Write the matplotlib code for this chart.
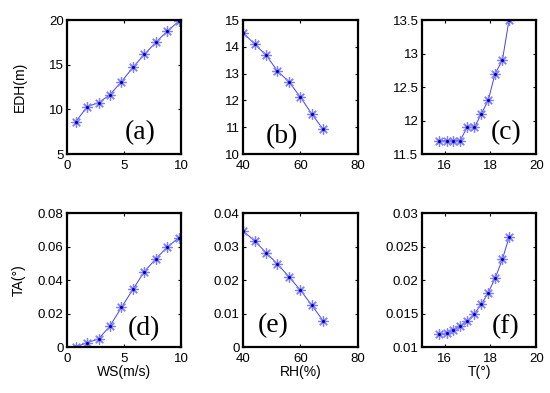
import numpy as np
import matplotlib
matplotlib.use("Agg")
import matplotlib.pyplot as plt

plt.rcParams['font.family'] = ['Liberation Sans', 'DejaVu Sans']

# wind speed (m/s)
ws = [0.75, 1.75, 2.75, 3.75, 4.75, 5.75, 6.75, 7.75, 8.75, 9.75]
edh_ws = [8.6, 10.3, 10.75, 11.65, 13.1, 14.7, 16.15, 17.5, 18.75, 19.85]
ta_ws = [0.0, 0.0026, 0.0048, 0.0126, 0.0236, 0.0344, 0.045, 0.0526, 0.0596, 0.0652]

# relative humidity (%)
rh = [40, 44, 48, 52, 56, 60, 64, 68]
edh_rh = [14.53, 14.1, 13.7, 13.1, 12.7, 12.13, 11.5, 10.92]
ta_rh = [0.0346, 0.0317, 0.0282, 0.0248, 0.021, 0.017, 0.0125, 0.0078]

# temperature
t = [15.77, 16.08, 16.38, 16.67, 16.98, 17.3, 17.6, 17.9, 18.2, 18.52, 18.81]
edh_t = [11.7, 11.7, 11.7, 11.7, 11.9, 11.9, 12.1, 12.3, 12.7, 12.9, 13.5]
ta_t = [0.0119, 0.0121, 0.0125, 0.0131, 0.0139, 0.015, 0.01635, 0.0181, 0.02025, 0.0231, 0.02635]

fig = plt.figure(figsize=(5.5, 3.93), dpi=100)

lefts = [0.122, 0.442, 0.767]
bottoms = [0.608, 0.117]
w, h = 0.208, 0.341

panels = [
    (ws, edh_ws, (0, 10), [0, 5, 10], (5, 20), [5, 10, 15, 20], '(a)', (0.64, 0.16)),
    (rh, edh_rh, (40, 80), [40, 60, 80], (10, 15), [10, 11, 12, 13, 14, 15], '(b)', (0.34, 0.13)),
    (t, edh_t, (15, 20), [16, 18, 20], (11.5, 13.5), [11.5, 12, 12.5, 13, 13.5], '(c)', (0.74, 0.16)),
    (ws, ta_ws, (0, 10), [0, 5, 10], (0, 0.08), [0, 0.02, 0.04, 0.06, 0.08], '(d)', (0.67, 0.14)),
    (rh, ta_rh, (40, 80), [40, 60, 80], (0, 0.04), [0, 0.01, 0.02, 0.03, 0.04], '(e)', (0.26, 0.16)),
    (t, ta_t, (15, 20), [16, 18, 20], (0.01, 0.03), [0.01, 0.015, 0.02, 0.025, 0.03], '(f)', (0.73, 0.15)),
]

axes = []
for i, (x, y, xl, xt, yl, yt, lab, pos) in enumerate(panels):
    ax = fig.add_axes([lefts[i % 3], bottoms[i // 3], w, h])
    ax.plot(x, y, color='#4040ff', lw=0.7)
    # matlab-like asterisk: light spokes with a dark centre
    ax.plot(x, y, ls='none', marker=(8, 2, 0), ms=7.5, mec='#8080ff', mew=0.9)
    ax.plot(x, y, ls='none', marker='.', ms=2.5, color='#0000aa')
    ax.set_xlim(*xl)
    ax.set_ylim(*yl)
    ax.set_xticks(xt)
    ax.set_yticks(yt)
    ax.set_yticklabels([f'{v:g}' for v in yt])
    ax.tick_params(direction='in', top=True, right=True, length=2.5,
                   labelsize=9.5, width=0.8, pad=2.5)
    ax.tick_params(axis='x', pad=4.5)
    for s in ax.spines.values():
        s.set_linewidth(1.6)
    ax.text(pos[0], pos[1], lab, transform=ax.transAxes, ha='center', va='center',
            fontsize=20, family='Liberation Serif')
    axes.append(ax)

axes[0].set_ylabel('EDH(m)', fontsize=10, labelpad=16)
axes[3].set_ylabel('TA(°)', fontsize=10, labelpad=9)
axes[3].set_xlabel('WS(m/s)', fontsize=10, labelpad=0)
axes[4].set_xlabel('RH(%)', fontsize=10, labelpad=0)
axes[5].set_xlabel('T(°)', fontsize=10, labelpad=0)

plt.savefig('out.png', dpi=100)
